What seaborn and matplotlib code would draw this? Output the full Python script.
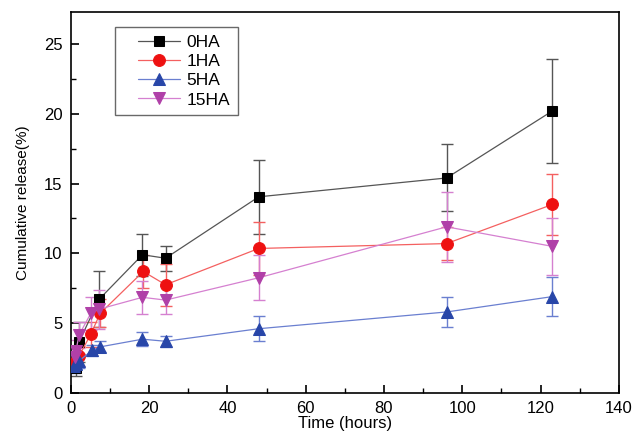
import numpy as np
import pandas as pd
import matplotlib
matplotlib.use('Agg')
import matplotlib.pyplot as plt
from matplotlib.lines import Line2D
from matplotlib.legend_handler import HandlerLine2D
import seaborn as sns

sns.set_theme(style="ticks")
plt.rcParams['font.family'] = ['Liberation Sans', 'DejaVu Sans']
plt.rcParams['text.color'] = 'black'
plt.rcParams['axes.labelcolor'] = 'black'
plt.rcParams['xtick.color'] = 'black'
plt.rcParams['ytick.color'] = 'black'

# release data
t_0ha = [1.3, 2.1, 7.2, 18.3, 24.2, 48, 96, 123]
y_0ha = [1.8, 3.65, 6.7, 9.9, 9.65, 14.05, 15.4, 20.2]
e_0ha = [0.6, 1.4, 2.0, 1.5, 0.9, 2.65, 2.4, 3.7]

t_1ha = [1.0, 2.1, 5.1, 7.5, 18.5, 24.2, 48, 96, 123]
y_1ha = [2.2, 2.65, 4.2, 5.7, 8.7, 7.75, 10.35, 10.7, 13.5]
e_1ha = [0.5, 0.7, 0.9, 1.0, 1.2, 1.5, 1.9, 1.2, 2.2]

t_5ha = [0.7, 1.3, 2.1, 5.5, 7.5, 18.3, 24.2, 48, 96, 123]
y_5ha = [1.9, 2.1, 2.3, 3.05, 3.3, 3.85, 3.7, 4.6, 5.8, 6.9]
e_5ha = [0.5, 0.4, 0.5, 0.4, 0.4, 0.5, 0.4, 0.9, 1.1, 1.4]

t_15ha = [1.0, 1.3, 2.1, 5.1, 7.2, 18.3, 24.2, 48, 96, 123]
y_15ha = [2.6, 3.0, 4.15, 5.7, 6.0, 6.85, 6.65, 8.25, 11.9, 10.5]
e_15ha = [0.6, 0.8, 0.9, 1.2, 1.4, 1.2, 1.0, 1.6, 2.5, 2.05]

series = [
    ('0HA', t_0ha, y_0ha, e_0ha, 'black', '#555555', 's', 7.5),
    ('1HA', t_1ha, y_1ha, e_1ha, '#ee1111', '#f46060', 'o', 8.5),
    ('5HA', t_5ha, y_5ha, e_5ha, '#2846a8', '#6a7fd0', '^', 8.5),
    ('15HA', t_15ha, y_15ha, e_15ha, '#b040a8', '#d580d0', 'v', 8.5),
]

fig = plt.figure(figsize=(6.38, 4.4), dpi=100)
ax = fig.add_axes([0.111, 0.107, 0.859, 0.866])

for name, t, y, e, mc, lc, mk, ms in series:
    df = pd.DataFrame({'t': t, 'y': y})
    ax.errorbar(t, y, yerr=e, fmt='none', ecolor=lc, elinewidth=1.0,
                capsize=4.5, capthick=1.0, zorder=2)
    sns.lineplot(data=df, x='t', y='y', ax=ax, color=lc, linewidth=0.9,
                 marker=mk, markersize=ms, markerfacecolor=mc,
                 markeredgecolor=mc, label=name, zorder=3)

ax.set_xlim(0, 140)
ax.set_ylim(0, 27.3)
ax.set_xticks(np.arange(0, 141, 20))
ax.set_xticks(np.arange(10, 140, 20), minor=True)
ax.set_yticks(np.arange(0, 26, 5))
ax.set_yticks(np.arange(2.5, 27, 5), minor=True)
ax.tick_params(which='both', direction='in', top=False, right=False, labelsize=12)
ax.tick_params(which='major', length=6, width=1.2, pad=6)
ax.tick_params(which='minor', length=3.5, width=1.0)
for s in ax.spines.values():
    s.set_linewidth(1.2)
    s.set_color('black')

ax.set_xlabel('Time (hours)', fontsize=12, labelpad=0)
ax.set_ylabel('Cumulative release(%)', fontsize=11, labelpad=10)

# handle shifted right inside the box, as in the original legend
leg = ax.legend(loc='upper left', bbox_to_anchor=(0.080, 0.96), fontsize=12.5,
                frameon=True, fancybox=False, edgecolor='#444444',
                handlelength=3.33, handletextpad=0.35, borderpad=0.45,
                labelspacing=0.23, borderaxespad=0,
                handler_map={Line2D: HandlerLine2D(xpad=0.87)})
leg.get_frame().set_linewidth(1.0)

plt.savefig('out.png', dpi=100)
